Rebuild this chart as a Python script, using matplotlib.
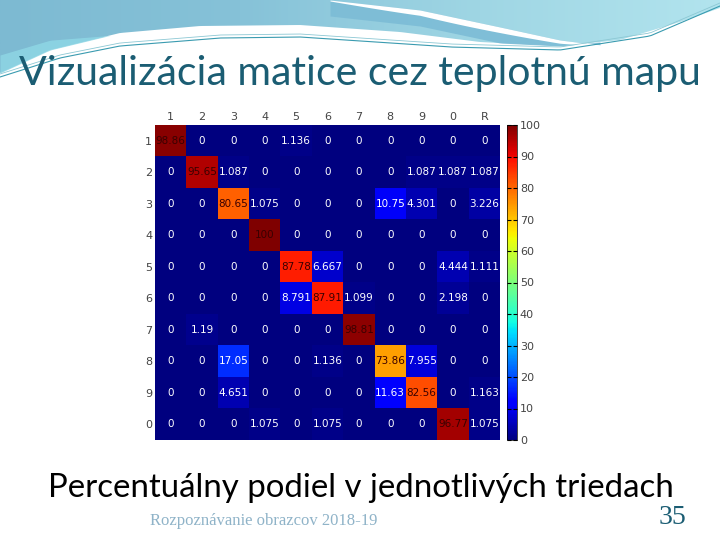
import numpy as np
import matplotlib
matplotlib.use("Agg")
import matplotlib.pyplot as plt
from matplotlib.patches import Polygon

# confusion matrix in percent: rows = true class, columns = predicted class (R = reject)
row_labels = ["1", "2", "3", "4", "5", "6", "7", "8", "9", "0"]
col_labels = ["1", "2", "3", "4", "5", "6", "7", "8", "9", "0", "R"]
r1 = [98.86, 0, 0, 0, 1.136, 0, 0, 0, 0, 0, 0]
r2 = [0, 95.65, 1.087, 0, 0, 0, 0, 0, 1.087, 1.087, 1.087]
r3 = [0, 0, 80.65, 1.075, 0, 0, 0, 10.75, 4.301, 0, 3.226]
r4 = [0, 0, 0, 100, 0, 0, 0, 0, 0, 0, 0]
r5 = [0, 0, 0, 0, 87.78, 6.667, 0, 0, 0, 4.444, 1.111]
r6 = [0, 0, 0, 0, 8.791, 87.91, 1.099, 0, 0, 2.198, 0]
r7 = [0, 1.19, 0, 0, 0, 0, 98.81, 0, 0, 0, 0]
r8 = [0, 0, 17.05, 0, 0, 1.136, 0, 73.86, 7.955, 0, 0]
r9 = [0, 0, 4.651, 0, 0, 0, 0, 11.63, 82.56, 0, 1.163]
r0 = [0, 0, 0, 1.075, 0, 1.075, 0, 0, 0, 96.77, 1.075]
cbar_ticks = [0, 10, 20, 30, 40, 50, 60, 70, 80, 90, 100]

title = "Vizualizácia matice cez teplotnú mapu"
caption = "Percentuálny podiel v jednotlivých triedach"
footer = "Rozpoznávanie obrazcov 2018-19"
page = "35"

W, H = 720, 540
fig = plt.figure(figsize=(W / 100, H / 100), dpi=100)


def box(x0, y0, x1, y1):
    # pixel box (top-left origin) -> figure fraction rect
    return [x0 / W, 1 - y1 / H, (x1 - x0) / W, (y1 - y0) / H]


# slide decoration at the top (pixel coordinates)
bg = fig.add_axes([0, 0, 1, 1], zorder=-10)
bg.set_xlim(0, W)
bg.set_ylim(H, 0)
bg.axis("off")
xs = np.linspace(0, W, 200)
edge = np.interp(xs, [0, 50, 120, 200, 300, 400, 480, 560, 620, 680, 720],
                 [73, 50, 33, 26, 25, 32, 42, 46, 40, 22, 8])
grad = np.linspace(0, 1, 256)[None, :]
cmap_bg = matplotlib.colors.LinearSegmentedColormap.from_list(
    "bgb", ["#7dbad2", "#86c2d8", "#9fd6e4", "#b2e4ee"])
im = bg.imshow(grad, extent=[0, W, 80, 0], cmap=cmap_bg, aspect="auto")
clip = Polygon(np.vstack([np.column_stack([xs, edge]), [[W, 0], [0, 0]]]),
               closed=True, transform=bg.transData)
im.set_clip_path(clip)
# cyan tint at lower left
lx = np.linspace(0, 110, 50)
bg.fill_between(lx, np.interp(lx, xs, edge), np.interp(lx, xs, edge) - 18 * (1 - lx / 110),
                color="#8fd8e6", lw=0, alpha=0.8)
# darker band under the white swoosh
sx = np.linspace(330, 600, 100)
s_top = np.interp(sx, [330, 420, 500, 560, 600], [0, 10, 27, 40, 45])
bg.fill_between(sx, s_top, np.minimum(s_top + 16, np.interp(sx, xs, edge)),
                color="#7cbcd6", lw=0, alpha=0.9)
bg.fill_between(sx, s_top, s_top + 5 * np.sin(np.pi * (sx - 330) / 270) + 1,
                color="white", lw=0)
# thin teal lines
tx = np.linspace(0, W, 200)
t1 = np.interp(tx, [0, 60, 120, 220, 300, 360, 450, 560, 650, 720], [77, 58, 46, 38, 37, 41, 47, 50, 36, 6])
bg.plot(tx, t1, color="#3a9bb0", lw=0.8)
bg.plot(tx, t1 - 3, color="#8cc8d4", lw=0.6)

fig.text(0.5, 1 - 74 / H, title, ha="center", va="center", fontsize=29.5, color="#1b5d73", family="Lato")
fig.text(0.501, 1 - 488 / H, caption, ha="center", va="center", fontsize=23.8, color="black", family="Lato")
fig.text(150 / W, 1 - 521 / H, footer, ha="left", va="center", fontsize=12, color="#8fb3c8", family="Liberation Serif")
fig.text(672 / W, 1 - 518 / H, page, ha="center", va="center", fontsize=20, color="#1b5d73", family="Liberation Serif")

# heatmap
data = np.array([r1, r2, r3, r4, r5, r6, r7, r8, r9, r0])
ax = fig.add_axes(box(155, 125, 500, 440))
ax.imshow(data, cmap="jet", vmin=0, vmax=100, aspect="auto")
ax.xaxis.tick_top()
ax.set_xticks(range(len(col_labels)), col_labels)
ax.set_yticks(range(len(row_labels)), row_labels)
ax.tick_params(length=0, labelsize=8, labelcolor="#444444", pad=2)
for s in ax.spines.values():
    s.set_visible(False)
for i in range(data.shape[0]):
    for j in range(data.shape[1]):
        v = data[i, j]
        txt = "0" if v == 0 else f"{v:.4g}"
        ax.text(j, i, txt, ha="center", va="center", fontsize=7.5,
                color="#3a0000" if v > 50 else "white")

cax = fig.add_axes(box(507, 125, 517, 440))
norm = matplotlib.colors.Normalize(0, 100)
cb = fig.colorbar(matplotlib.cm.ScalarMappable(norm=norm, cmap="jet"), cax=cax)
cb.set_ticks(cbar_ticks)
cb.outline.set_linewidth(0.5)
cax.tick_params(labelsize=8, length=3, direction="in", left=True, right=True, pad=2, labelcolor="#444444")

fig.savefig("out.png", dpi=100)
